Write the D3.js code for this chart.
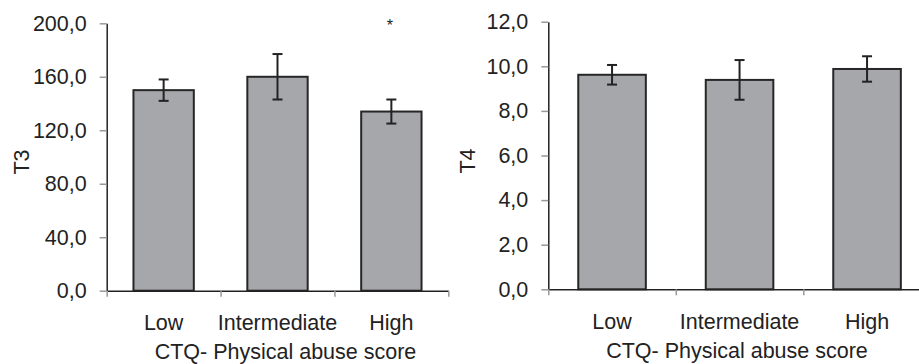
<!DOCTYPE html>
<html><head><meta charset="utf-8">
<script src="https://cdn.jsdelivr.net/npm/d3@7"></script>
<style>
body{margin:0;background:#fff;}
svg{display:block;font-family:"Liberation Sans",Arial,sans-serif;}
</style></head>
<body><svg id="c" width="919" height="364"></svg>
<script>
const categories = ["Low", "Intermediate", "High"];
const t3Values = [150, 160, 134];
const t3Errors = [8, 17, 9];
const t4Values = [9.62, 9.39, 9.88];
const t4Errors = [0.44, 0.89, 0.57];
const t3Ticks = [0, 40, 80, 120, 160, 200];
const t4Ticks = [0, 2, 4, 6, 8, 10, 12];
const xTitle = "CTQ- Physical abuse score";

const FS = 21.5;
const svg = d3.select("#c");
const fmt = d => d.toFixed(1).replace(".", ",");

function panel(cfg) {
  const g = svg.append("g");
  const y = d3.scaleLinear().domain(cfg.domain).range([cfg.y0, cfg.y1]);
  const x = d3.scaleBand().domain(categories).range([cfg.x0, cfg.x1])
    .paddingInner(0.47).paddingOuter(0.235);
  const xb = d3.scaleLinear().domain([0, categories.length]).range([cfg.x0, cfg.x1]);

  // y axis
  const ya = g.append("g").attr("transform", `translate(${cfg.x0},0)`)
    .call(d3.axisLeft(y).tickValues(cfg.ticks).tickFormat(fmt).tickSizeInner(7).tickSizeOuter(0).tickPadding(13));
  ya.select(".domain").attr("stroke", "#222").attr("stroke-width", 1.5);
  ya.selectAll(".tick line").attr("stroke", "#999").attr("stroke-width", 1.5);
  ya.selectAll(".tick text").attr("font-size", FS).attr("fill", "#222")
    .attr("font-family", "Liberation Sans, Arial, sans-serif");

  // bars
  g.selectAll("rect.bar").data(cfg.values).join("rect")
    .attr("x", (d, i) => x(categories[i]))
    .attr("width", x.bandwidth())
    .attr("y", d => y(d))
    .attr("height", d => y(0) - y(d))
    .attr("fill", "#a6a7ab").attr("stroke", "#262626").attr("stroke-width", 2);

  // error bars
  const eg = g.append("g").attr("stroke", "#222").attr("stroke-width", 2);
  cfg.values.forEach((v, i) => {
    const cx = x(categories[i]) + x.bandwidth() / 2;
    const e = cfg.errors[i];
    eg.append("line").attr("x1", cx).attr("x2", cx).attr("y1", y(v + e)).attr("y2", y(v - e));
    eg.append("line").attr("x1", cx - 5).attr("x2", cx + 5).attr("y1", y(v + e)).attr("y2", y(v + e));
    eg.append("line").attr("x1", cx - 5).attr("x2", cx + 5).attr("y1", y(v - e)).attr("y2", y(v - e));
  });

  // x axis boundary ticks
  const xa = g.append("g").attr("transform", `translate(0,${cfg.y0})`)
    .call(d3.axisBottom(xb).tickValues(d3.range(categories.length + 1)).tickFormat("").tickSizeInner(6).tickSizeOuter(0));
  xa.select(".domain").attr("stroke", "#222").attr("stroke-width", 1.5);
  xa.selectAll(".tick line").attr("stroke", "#999").attr("stroke-width", 1.5);

  // category labels
  const xl = g.append("g").attr("transform", `translate(0,${cfg.y0})`)
    .call(d3.axisBottom(x).tickSize(0).tickPadding(24));
  xl.select(".domain").remove();
  xl.selectAll(".tick text").attr("font-size", FS).attr("fill", "#222")
    .attr("font-family", "Liberation Sans, Arial, sans-serif");

  // y label
  g.append("text").attr("transform", `translate(${cfg.ylx},${cfg.yly}) rotate(-90)`)
    .attr("text-anchor", "middle").attr("dy", "0.35em")
    .attr("font-size", FS).attr("fill", "#222").text(cfg.ylabel);

  // x title
  g.append("text").attr("x", cfg.tx).attr("y", cfg.ty)
    .attr("text-anchor", "middle").attr("font-size", FS).attr("fill", "#222").text(xTitle);

  return {x, y, g};
}

const p1 = panel({domain: [0, 200], ticks: t3Ticks, values: t3Values, errors: t3Errors,
  x0: 106.7, x1: 448.3, y0: 290.7, y1: 23.3, ylabel: "T3", ylx: 21, yly: 162, tx: 285.5, ty: 358.5});
const p2 = panel({domain: [0, 12], ticks: t4Ticks, values: t4Values, errors: t4Errors,
  x0: 548.3, x1: 930.8, y0: 289.3, y1: 21.7, ylabel: "T4", ylx: 467, yly: 161, tx: 737, ty: 358});

// significance marker
p1.g.append("text")
  .attr("x", p1.x("High") + p1.x.bandwidth() / 2 - 1.5)
  .attr("y", 31).attr("text-anchor", "middle").attr("font-size", 16).attr("fill", "#222").text("*");
</script>
</body></html>
